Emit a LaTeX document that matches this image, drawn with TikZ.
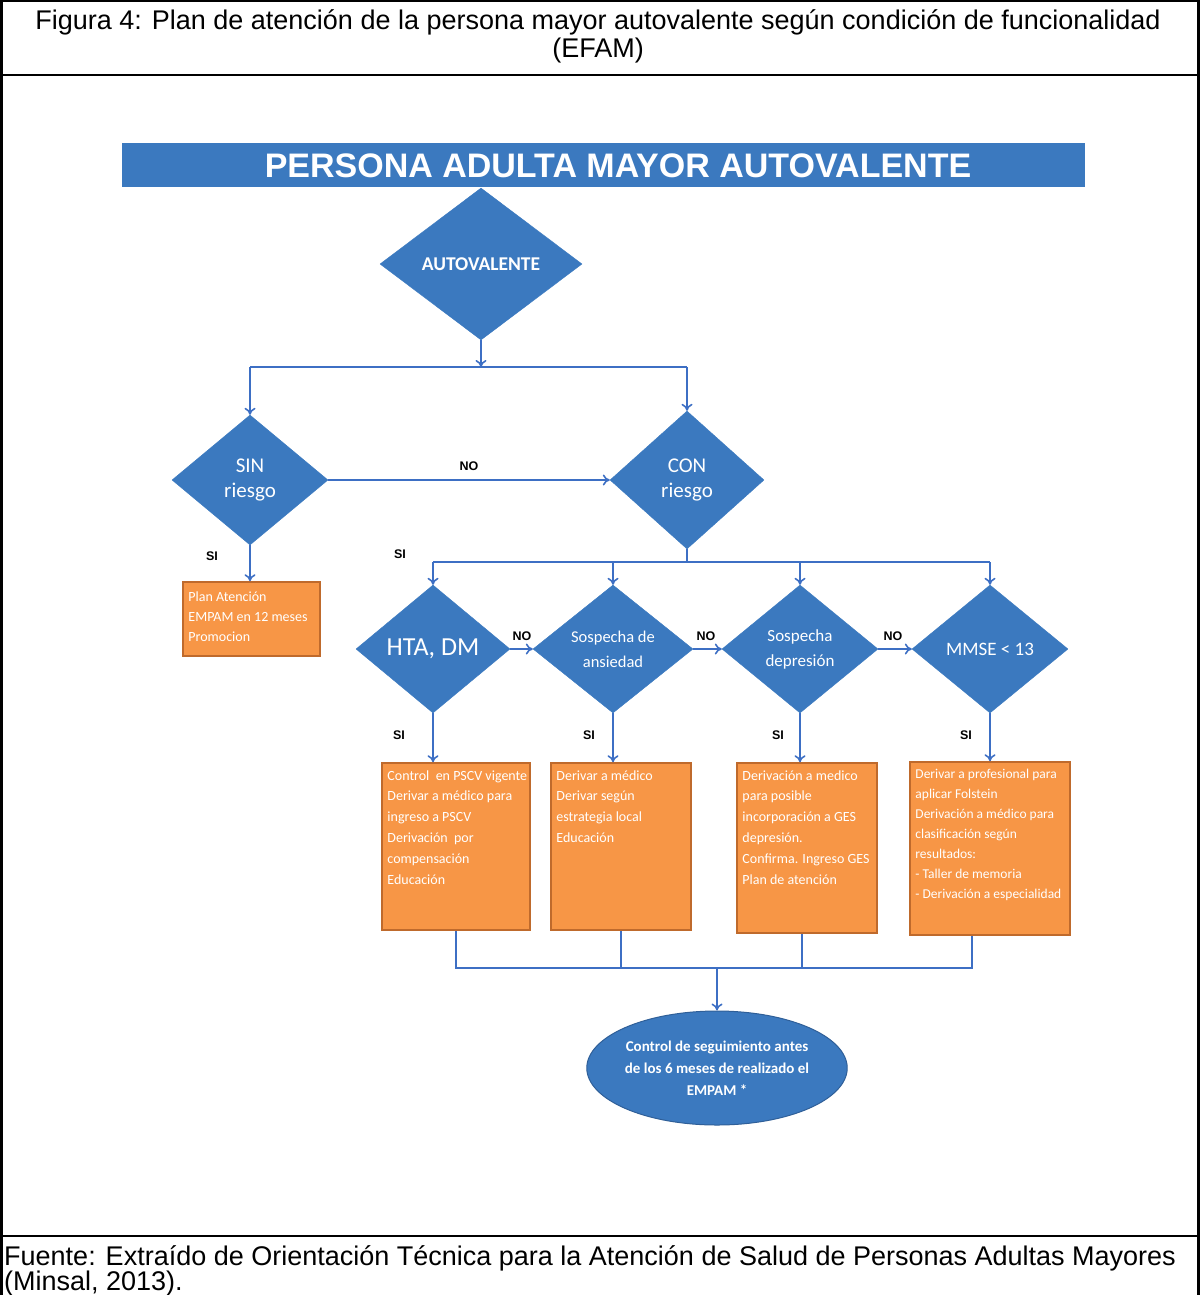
\documentclass[tikz,border=0pt]{standalone}
\usepackage{fontspec}
\setmainfont{Liberation Sans}
\newfontfamily\diagfont{Carlito}
\usetikzlibrary{shapes.geometric,arrows.meta,calc}
\definecolor{flowblue}{HTML}{3B79BF}
\definecolor{flowedge}{HTML}{2F5F98}
\definecolor{linkblue}{HTML}{3D6FC4}
\definecolor{boxorange}{HTML}{F79646}
\definecolor{boxedge}{HTML}{BF6A2C}
\begin{document}
\begin{tikzpicture}[x=1pt,y=-1pt,
  decision/.style={diamond,fill=flowblue,draw=flowblue,inner sep=0pt,align=center,
    text=white,font=\diagfont\fontsize{21}{25}\selectfont},
  actionbox/.style={rectangle,fill=boxorange,draw=boxedge,line width=1.5pt,inner sep=0pt},
  boxtext/.style={anchor=north west,align=left,text=white,inner sep=0pt,
    font=\diagfont\fontsize{14}{20.8}\selectfont},
  conn/.style={draw=linkblue,line width=2.4pt},
  tip/.style={-{To[length=7pt,width=11pt,line width=1.6pt]}},
  answer/.style={font=\bfseries\fontsize{12.5}{14}\selectfont,text=black,inner sep=0pt},
  caption/.style={font=\fontsize{27}{30}\selectfont,inner sep=0pt}]
\useasboundingbox (0,0) rectangle (1200,1295);
% outer table frame
\draw[line width=2.5pt] (0,1) -- (1200,1);
\draw[line width=2.5pt] (1.5,0) -- (1.5,1295);
\draw[line width=2.5pt] (1198.5,0) -- (1198.5,1295);
\draw[line width=2.5pt] (0,75) -- (1200,75);
\draw[line width=2.5pt] (0,1236) -- (1200,1236);
\node[caption] (cap1) at (598,22) {Figura 4: Plan de atención de la persona mayor autovalente según condición de funcionalidad};
\node[caption] (cap2) at (598,51) {(EFAM)};
\node[caption,anchor=west] (src1) at (4,1258) {Fuente: Extraído de Orientación Técnica para la Atención de Salud de Personas Adultas Mayores};
\node[caption,anchor=west] (src2) at (4,1283) {(Minsal, 2013).};
% title bar
\node[rectangle,fill=flowblue,minimum width=963pt,minimum height=44pt,inner sep=0pt] (titlebar) at (603.5,165) {};
\node[text=white,font=\bfseries\fontsize{34}{36}\selectfont,inner sep=0pt] (titletext) at (618,166) {PERSONA ADULTA MAYOR AUTOVALENTE};
% decisions
\node[decision,minimum width=202pt,minimum height=152pt,font=\diagfont\bfseries\fontsize{19.5}{22}\selectfont] (auto) at (481,264) {AUTOVALENTE};
\node[decision,minimum width=156pt,minimum height=130pt] (sin) at (250,480) {SIN\\riesgo};
\node[decision,minimum width=154pt,minimum height=138pt] (con) at (687,480) {CON\\riesgo};
\node[decision,minimum width=154pt,minimum height=128pt,font=\diagfont\fontsize{26}{30}\selectfont] (hta) at (433,649) {HTA, DM};
\node[decision,minimum width=160pt,minimum height=128pt,font=\diagfont\fontsize{16.5}{25}\selectfont] (ans) at (613,649) {Sospecha de\\ansiedad};
\node[decision,minimum width=156pt,minimum height=128pt,font=\diagfont\fontsize{17}{25}\selectfont] (dep) at (800,649) {Sospecha\\depresión};
\node[decision,minimum width=156pt,minimum height=128pt,font=\diagfont\fontsize{19}{23}\selectfont] (mmse) at (990,649) {MMSE < 13};
% action boxes
\node[actionbox,minimum width=137pt,minimum height=74pt] (plan) at (251.5,619) {};
\node[boxtext,font=\diagfont\fontsize{14}{20}\selectfont] (plantxt) at ($(plan.north west)+(6,10)$) {Plan Atención\\EMPAM en 12 meses\\Promocion};
\node[actionbox,minimum width=148pt,minimum height=167pt] (boxA) at (456,846.5) {};
\node[boxtext] (boxAtxt) at ($(boxA.north west)+(6,8)$) {Control \ en PSCV vigente\\Derivar a médico para\\ingreso a PSCV\\Derivación \ por\\compensación\\Educación};
\node[actionbox,minimum width=140pt,minimum height=167pt] (boxB) at (621,846.5) {};
\node[boxtext] (boxBtxt) at ($(boxB.north west)+(6,8)$) {Derivar a médico\\Derivar según\\estrategia local\\Educación};
\node[actionbox,minimum width=140pt,minimum height=170pt] (boxC) at (807,848) {};
\node[boxtext] (boxCtxt) at ($(boxC.north west)+(6,8)$) {Derivación a medico\\para posible\\incorporación a GES\\depresión.\\Confirma. Ingreso GES\\Plan de atención};
\node[actionbox,minimum width=160pt,minimum height=173pt] (boxD) at (990,848.5) {};
\node[boxtext,font=\diagfont\fontsize{13.5}{20}\selectfont] (boxDtxt) at ($(boxD.north west)+(6,8)$) {Derivar a profesional para\\aplicar Folstein\\Derivación a médico para\\clasificación según\\resultados:\\- Taller de memoria\\- Derivación a especialidad};
% final ellipse
\node[ellipse,fill=flowblue,draw=flowedge,line width=1pt,minimum width=224pt,minimum height=114pt,inner sep=0pt,
  align=center,text=white,font=\diagfont\bfseries\fontsize{15}{22}\selectfont] (follow) at (717,1068)
  {Control de seguimiento antes\\de los 6 meses de realizado el\\EMPAM *};
% connectors
\coordinate (j1) at (481,367);
\coordinate (j2) at (687,562);
\coordinate (j3) at (717,968);
\draw[conn,tip] (auto.south) -- (j1);
\draw[conn] (sin.north |- j1) -- (con.north |- j1);
\draw[conn,tip] (sin.north |- j1) -- (sin.north);
\draw[conn,tip] (con.north |- j1) -- (con.north);
\draw[conn,tip] (sin.east) -- node[answer,pos=0.5,yshift=14pt] (no0) {NO} (con.west);
\draw[conn,tip] (sin.south) -- (sin.south |- plan.north);
\node[answer] (si0) at (212,556) {SI};
\draw[conn] (con.south) -- (j2);
\draw[conn] (hta.north |- j2) -- (mmse.north |- j2);
\draw[conn,tip] (hta.north |- j2) -- (hta.north);
\draw[conn,tip] (ans.north |- j2) -- (ans.north);
\draw[conn,tip] (dep.north |- j2) -- (dep.north);
\draw[conn,tip] (mmse.north |- j2) -- (mmse.north);
\node[answer] (si1) at (400,554) {SI};
\draw[conn,tip] (hta.east) -- (ans.west);
\draw[conn,tip] (ans.east) -- (dep.west);
\draw[conn,tip] (dep.east) -- (mmse.west);
\node[answer] (no1) at (522,636) {NO};
\node[answer] (no2) at (706,636) {NO};
\node[answer] (no3) at (893,636) {NO};
\draw[conn,tip] (hta.south) -- (hta.south |- boxA.north);
\draw[conn,tip] (ans.south) -- (ans.south |- boxB.north);
\draw[conn,tip] (dep.south) -- (dep.south |- boxC.north);
\draw[conn,tip] (mmse.south) -- (mmse.south |- boxD.north);
\node[answer] (si2) at (399,735) {SI};
\node[answer] (si3) at (589,735) {SI};
\node[answer] (si4) at (778,735) {SI};
\node[answer] (si5) at (966,735) {SI};
\coordinate (ba) at (boxA.south);
\coordinate (bb) at (boxB.south);
\coordinate (bc) at ($(boxC.south)+(-5,0)$);
\coordinate (bd) at ($(boxD.south)+(-18,0)$);
\draw[conn] (ba) -- (ba |- j3) -- (bd |- j3) -- (bd);
\draw[conn] (bb) -- (bb |- j3);
\draw[conn] (bc) -- (bc |- j3);
\draw[conn,tip] (j3) -- (follow.north);
\end{tikzpicture}
\end{document}
